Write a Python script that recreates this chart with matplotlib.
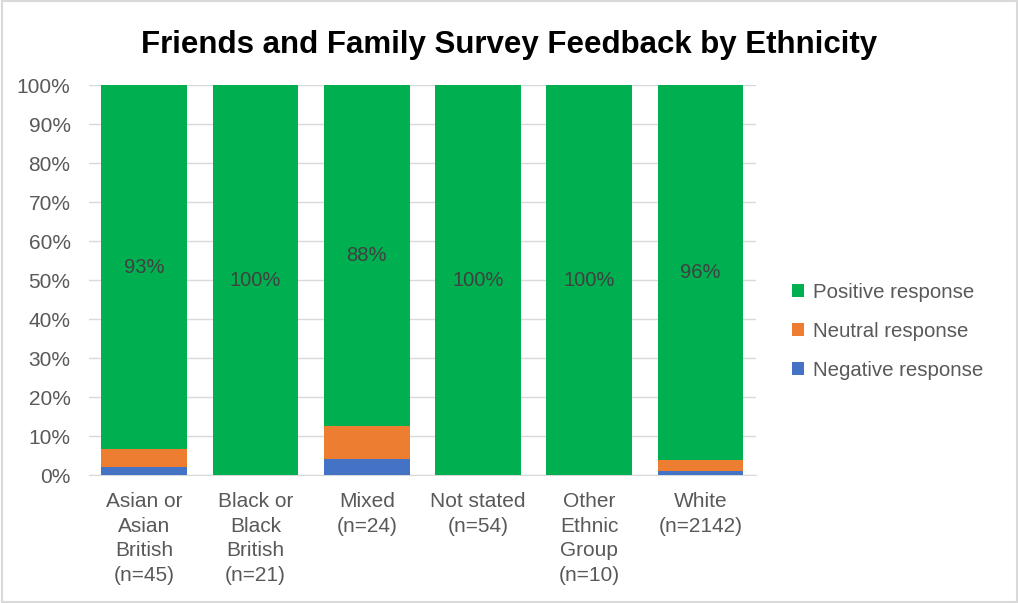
import numpy as np
import matplotlib.pyplot as plt
from matplotlib.patches import Rectangle

plt.rcParams['font.family'] = ['Liberation Sans', 'DejaVu Sans']

categories = ['Asian or\nAsian\nBritish\n(n=45)', 'Black or\nBlack\nBritish\n(n=21)', 'Mixed\n(n=24)',
              'Not stated\n(n=54)', 'Other\nEthnic\nGroup\n(n=10)', 'White\n(n=2142)']
negative = [2.2, 0.0, 4.2, 0.0, 0.0, 1.0]
neutral = [4.4, 0.0, 8.3, 0.0, 0.0, 3.0]
positive = [93.3, 100.0, 87.5, 100.0, 100.0, 96.0]
pos_labels = ['93%', '100%', '88%', '100%', '100%', '96%']

c_neg = '#4472c4'
c_neu = '#ed7d31'
c_pos = '#00b050'
grey = '#595959'

fig = plt.figure(figsize=(10.19, 6.03), dpi=100)
ax = fig.add_axes([0.087, 0.212, 0.655, 0.647])

x = np.arange(len(categories))
w = 0.77
neg = np.array(negative)
neu = np.array(neutral)
pos = np.array(positive)
ax.bar(x, neg, w, color=c_neg, label='Negative response', zorder=3)
ax.bar(x, neu, w, bottom=neg, color=c_neu, label='Neutral response', zorder=3)
ax.bar(x, pos, w, bottom=neg + neu, color=c_pos, label='Positive response', zorder=3)

for i in range(len(x)):
    ax.text(x[i], neg[i] + neu[i] + pos[i] / 2, pos_labels[i], ha='center', va='center',
            fontsize=14.5, color='#404040', zorder=4)

ax.set_xlim(-0.5, len(x) - 0.5)
ax.set_ylim(0, 100)
ax.set_yticks(np.arange(0, 101, 10))
ax.set_yticklabels([f'{v}%' for v in range(0, 101, 10)])
ax.yaxis.grid(True, color='#d9d9d9', linewidth=1, zorder=0)
ax.set_xticks(x)
ax.set_xticklabels(categories, linespacing=1.38)
ax.tick_params(axis='both', length=0, labelsize=15, colors=grey)
ax.tick_params(axis='x', pad=12)
ax.tick_params(axis='y', pad=13)
for s in ['top', 'right', 'left']:
    ax.spines[s].set_visible(False)
ax.spines['bottom'].set_color('#d9d9d9')

fig.suptitle('Friends and Family Survey Feedback by Ethnicity', x=0.5, y=0.95,
             fontsize=22.5, fontweight='bold', color='black')

h, l = ax.get_legend_handles_labels()
leg = fig.legend(h[::-1], l[::-1], loc='center left', bbox_to_anchor=(0.759, 0.45),
                 frameon=False, fontsize=14.7, labelcolor=grey, handlelength=0.6,
                 handleheight=0.6, labelspacing=0.98, handletextpad=0.45)

fig.patches.append(Rectangle((0.002, 0.002), 0.996, 0.996, transform=fig.transFigure,
                             fill=False, edgecolor='#d9d9d9', linewidth=1.5))

fig.savefig('out.png', dpi=100)
